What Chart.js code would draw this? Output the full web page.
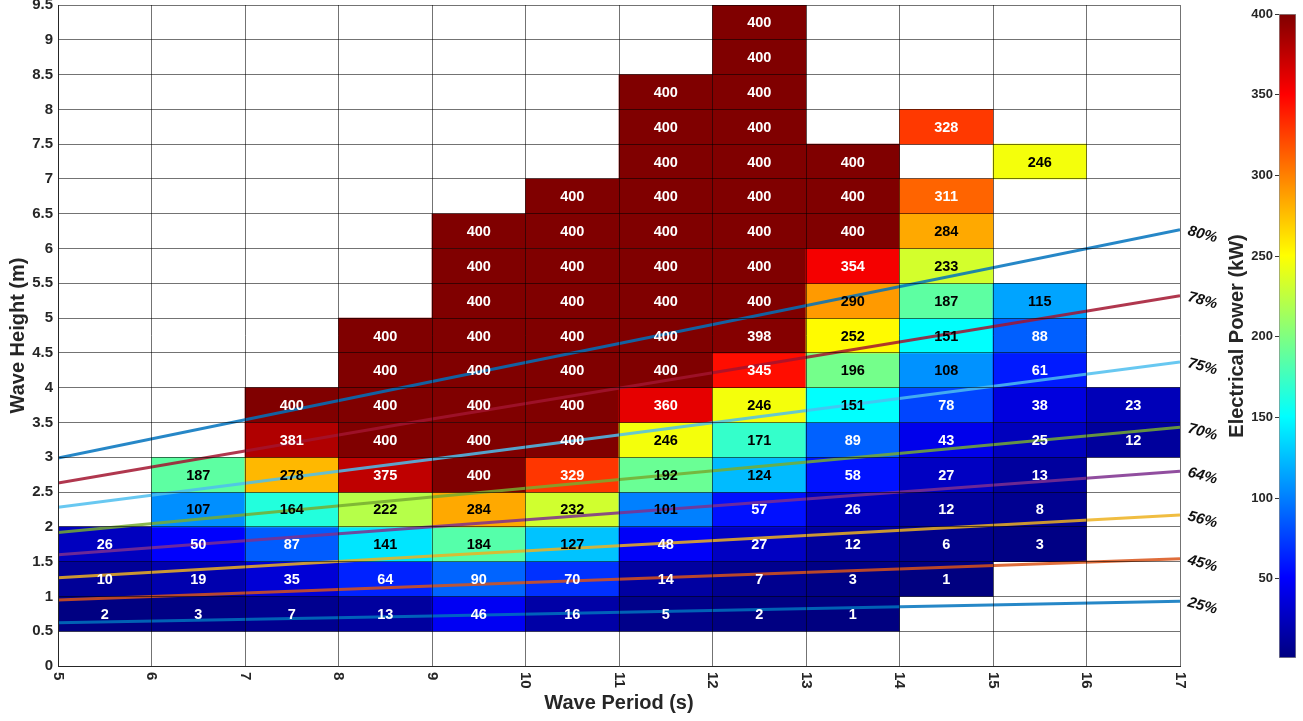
<!DOCTYPE html>
<html>
<head>
<meta charset="utf-8">
<script src="https://cdn.jsdelivr.net/npm/chart.js@4.4.0/dist/chart.umd.min.js"></script>
<style>
  html, body { margin: 0; padding: 0; background: #fff; }
  #wrap { position: relative; width: 1303px; height: 721px; }
  #main { position: absolute; left: 0; top: 0; }
  #cbar { position: absolute; left: 1215px; top: 0; }
</style>
</head>
<body>
<div id="wrap">
  <canvas id="main" width="1303" height="721"></canvas>
  <canvas id="cbar" width="88" height="721"></canvas>
</div>
<script>
// lower edge of each wave period bin (s) and wave height bin (m)
const periods = [5, 6, 7, 8, 9, 10, 11, 12, 13, 14, 15, 16]
const heights = [0.5, 1, 1.5, 2, 2.5, 3, 3.5, 4, 4.5, 5, 5.5, 6, 6.5, 7, 7.5, 8, 8.5, 9]

// electrical power (kW), one row per height bin, null = no sea state
const power = [
  [2, 3, 7, 13, 46, 16, 5, 2, 1, null, null, null],
  [10, 19, 35, 64, 90, 70, 14, 7, 3, 1, null, null],
  [26, 50, 87, 141, 184, 127, 48, 27, 12, 6, 3, null],
  [null, 107, 164, 222, 284, 232, 101, 57, 26, 12, 8, null],
  [null, 187, 278, 375, 400, 329, 192, 124, 58, 27, 13, null],
  [null, null, 381, 400, 400, 400, 246, 171, 89, 43, 25, 12],
  [null, null, 400, 400, 400, 400, 360, 246, 151, 78, 38, 23],
  [null, null, null, 400, 400, 400, 400, 345, 196, 108, 61, null],
  [null, null, null, 400, 400, 400, 400, 398, 252, 151, 88, null],
  [null, null, null, null, 400, 400, 400, 400, 290, 187, 115, null],
  [null, null, null, null, 400, 400, 400, 400, 354, 233, null, null],
  [null, null, null, null, 400, 400, 400, 400, 400, 284, null, null],
  [null, null, null, null, null, 400, 400, 400, 400, 311, null, null],
  [null, null, null, null, null, null, 400, 400, 400, null, 246, null],
  [null, null, null, null, null, null, 400, 400, null, 328, null, null],
  [null, null, null, null, null, null, 400, 400, null, null, null, null],
  [null, null, null, null, null, null, null, 400, null, null, null, null],
  [null, null, null, null, null, null, null, 400, null, null, null, null]
]

// efficiency lines, wave height read at these periods
const effLabels = ['80%', '78%', '75%', '70%', '64%', '56%', '45%', '25%']
const effPeriods = [5, 9, 17]
const effHeights = [
  [2.99, 4.09, 6.27],
  [2.63, 3.55, 5.32],
  [2.28, 2.97, 4.37],
  [1.92, 2.43, 3.43],
  [1.60, 2.00, 2.80],
  [1.27, 1.58, 2.17],
  [0.95, 1.15, 1.54],
  [0.62, 0.72, 0.93]
]
const effColors = ['#0072BD', '#A2142F', '#4DBEEE', '#77AC30', '#7E2F8E', '#EDB120', '#D95319', '#0072BD']

const xTicks = [5, 6, 7, 8, 9, 10, 11, 12, 13, 14, 15, 16, 17]
const yTicks = [0, 0.5, 1, 1.5, 2, 2.5, 3, 3.5, 4, 4.5, 5, 5.5, 6, 6.5, 7, 7.5, 8, 8.5, 9, 9.5]
const cbTicks = [50, 100, 150, 200, 250, 300, 350, 400]
const cMin = 1
const cMax = 400

const binW = 1
const binH = 0.5
const textCol = '#262626'
const fontFam = '"Liberation Sans", Arial, Helvetica, sans-serif'

function jet(t) {
  const c = (v) => Math.round(255 * Math.min(1, Math.max(0, v)))
  return `rgb(${c(1.5 - Math.abs(4 * t - 3))},${c(1.5 - Math.abs(4 * t - 2))},${c(1.5 - Math.abs(4 * t - 1))})`
}

function withAlpha(hex, a) {
  const n = parseInt(hex.slice(1), 16)
  return `rgba(${(n >> 16) & 255},${(n >> 8) & 255},${n & 255},${a})`
}

const cells = []
heights.forEach((h, r) => {
  periods.forEach((p, c) => {
    const v = power[r][c]
    if (v !== null) cells.push({ x: p + binW / 2, y: [h, h + binH], v: v })
  })
})

const labelsPlugin = {
  id: 'labels',
  afterDatasetsDraw(chart) {
    const ctx = chart.ctx
    ctx.save()
    // values inside the cells
    const barMeta = chart.getDatasetMeta(chart.data.datasets.length - 1)
    ctx.font = `bold 14.5px ${fontFam}`
    ctx.textAlign = 'center'
    ctx.textBaseline = 'middle'
    barMeta.data.forEach((bar, i) => {
      const v = cells[i].v
      ctx.fillStyle = v < 100 || v > 300 ? '#ffffff' : '#000000'
      ctx.fillText(String(v), bar.x, (bar.y + bar.base) / 2 + 1)
    })
    // efficiency labels at line ends
    ctx.font = `italic bold 15px ${fontFam}`
    ctx.textAlign = 'left'
    ctx.fillStyle = '#111'
    effLabels.forEach((lab, i) => {
      const meta = chart.getDatasetMeta(i)
      const pt = meta.data[meta.data.length - 1]
      ctx.save()
      ctx.translate(pt.x + 8, pt.y + 1)
      ctx.rotate(15 * Math.PI / 180)
      ctx.fillText(lab, 0, 0)
      ctx.restore()
    })
    ctx.restore()
  },
  afterDraw(chart) {
    // x tick labels, rotated to read top to bottom
    const ctx = chart.ctx
    const sx = chart.scales.x
    ctx.save()
    ctx.font = `bold 15px ${fontFam}`
    ctx.fillStyle = textCol
    ctx.textAlign = 'left'
    ctx.textBaseline = 'middle'
    xTicks.forEach((v) => {
      ctx.save()
      ctx.translate(sx.getPixelForValue(v), chart.chartArea.bottom + 6)
      ctx.rotate(Math.PI / 2)
      ctx.fillText(String(v), 0, 0)
      ctx.restore()
    })
    ctx.restore()
  }
}

const lineSets = effLabels.map((lab, i) => ({
  type: 'line',
  label: lab,
  data: effPeriods.map((x, j) => ({ x: x, y: effHeights[i][j] })),
  borderColor: withAlpha(effColors[i], 0.85),
  borderWidth: 3,
  pointRadius: 0,
  tension: 0,
  order: 1
}))

new Chart(document.getElementById('main'), {
  type: 'bar',
  data: {
    datasets: [
      ...lineSets,
      {
        type: 'bar',
        label: 'power',
        data: cells,
        backgroundColor: cells.map((d) => jet((d.v - cMin) / (cMax - cMin))),
        borderWidth: 0,
        barPercentage: 1,
        categoryPercentage: 1,
        order: 2
      }
    ]
  },
  options: {
    responsive: false,
    animation: false,
    layout: { padding: { top: 5, right: 123, bottom: 0, left: 0 } },
    plugins: { legend: { display: false }, tooltip: { enabled: false } },
    scales: {
      x: {
        type: 'linear',
        min: 5,
        max: 17,
        offset: false,
        afterBuildTicks: (s) => { s.ticks = xTicks.map((v) => ({ value: v })) },
        afterFit: (s) => { s.height = 55; s.paddingLeft = 0; s.paddingRight = 0 },
        ticks: { display: false },
        grid: { offset: false, color: 'rgba(0,0,0,0.55)', z: 1, drawTicks: false },
        border: { color: textCol, width: 1, z: 2 },
        title: {
          display: true,
          text: 'Wave Period (s)',
          color: textCol,
          font: { family: fontFam, size: 20, weight: 'bold' },
          padding: { top: 0, bottom: 6 }
        }
      },
      y: {
        type: 'linear',
        min: 0,
        max: 9.5,
        afterBuildTicks: (s) => { s.ticks = yTicks.map((v) => ({ value: v })) },
        afterFit: (s) => { s.width = 58; s.paddingTop = 0; s.paddingBottom = 0 },
        ticks: {
          color: textCol,
          padding: 5,
          font: { family: fontFam, size: 15, weight: 'bold' },
          callback: (v) => String(v)
        },
        grid: { color: 'rgba(0,0,0,0.55)', z: 1, drawTicks: false },
        border: { color: textCol, width: 1, z: 2 },
        title: {
          display: true,
          text: 'Wave Height (m)',
          color: textCol,
          font: { family: fontFam, size: 20, weight: 'bold' },
          padding: { top: 6, bottom: 0 }
        }
      }
    }
  },
  plugins: [labelsPlugin]
})

// colour bar
new Chart(document.getElementById('cbar'), {
  type: 'bar',
  data: {
    labels: [''],
    datasets: [{
      data: [[cMin, cMax]],
      backgroundColor: (c) => {
        const area = c.chart.chartArea
        if (!area) return null
        const g = c.chart.ctx.createLinearGradient(0, area.bottom, 0, area.top)
        for (let i = 0; i <= 8; i++) g.addColorStop(i / 8, jet(i / 8))
        return g
      },
      borderColor: '#8c8c8c',
      borderWidth: 1,
      borderSkipped: false,
      barPercentage: 1,
      categoryPercentage: 1
    }]
  },
  options: {
    responsive: false,
    animation: false,
    layout: { padding: { top: 14, right: 7, bottom: 63, left: 0 } },
    plugins: { legend: { display: false }, tooltip: { enabled: false } },
    scales: {
      x: { display: false },
      y: {
        min: cMin,
        max: cMax,
        afterBuildTicks: (s) => { s.ticks = cbTicks.map((v) => ({ value: v })) },
        afterFit: (s) => { s.width = 64; s.paddingTop = 0; s.paddingBottom = 0 },
        ticks: { color: textCol, padding: 2, font: { family: fontFam, size: 13, weight: 'bold' } },
        grid: { drawOnChartArea: false, tickLength: 4, color: '#333' },
        border: { display: false },
        title: {
          display: true,
          text: 'Electrical Power (kW)',
          color: textCol,
          font: { family: fontFam, size: 20, weight: 'bold' },
          padding: { top: 10, bottom: 0 }
        }
      }
    }
  }
})
</script>
</body>
</html>
